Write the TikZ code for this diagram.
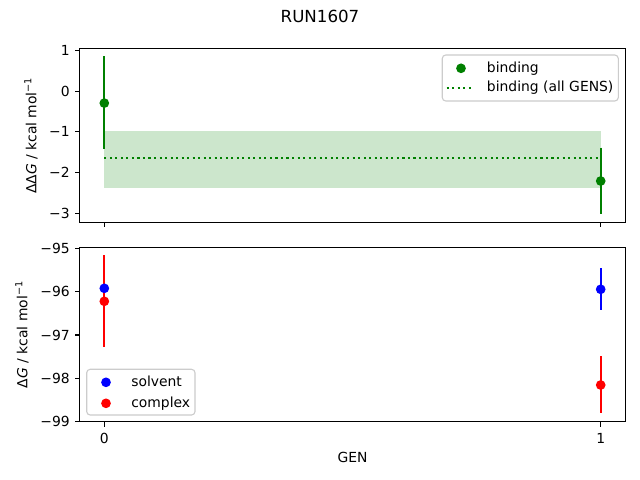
\documentclass[tikz,border=0pt]{standalone}
\usepackage{fontspec}
\setmainfont{DejaVu Sans}
\usetikzlibrary{positioning}
\definecolor{mplgreen}{HTML}{008000}
\definecolor{bandgreen}{HTML}{CCE6CC}
\definecolor{legendedge}{HTML}{CCCCCC}

\begin{document}
\begin{tikzpicture}[x=0.72pt,y=-0.72pt,
    every node/.append style={font=\fontsize{10}{12}\selectfont, inner sep=0},
    axisframe/.style={line width=0.8pt},
    tickmark/.style={line width=0.8pt},
    errbar/.style={line width=1.5pt},
    dot/.style={circle, minimum size=7pt, inner sep=0},
    legendbox/.style={draw=legendedge, fill=white, fill opacity=0.8,
                      rounded corners=2.5pt, line width=0.8pt},
    meanline/.style={mplgreen, line width=1.5pt, dash pattern=on 1.5pt off 2.475pt}]
    \fill[white] (0,0) rectangle (640,480);
    \useasboundingbox (0,0) rectangle (640,480);
    \node[font=\fontsize{12}{14}\selectfont, anchor=base] (title) at (320,22.3) {RUN1607};
    % upper panel: binding
    \fill[bandgreen] (104.3,131.1) rectangle (600.7,188.3);
    \coordinate (meanL) at (104.3,158.3);
    \coordinate (meanR) at (600.7,158.3);
    \draw[meanline] (meanL) -- (meanR);
    \draw[errbar, mplgreen] (104.3,56.0) -- (104.3,149.4);
    \draw[errbar, mplgreen] (600.7,147.7) -- (600.7,214.3);
    \node[dot, fill=mplgreen] (bind0) at (104.3,103.1) {};
    \node[dot, fill=mplgreen] (bind1) at (600.7,181.0) {};
    \draw[axisframe] (79.5,48.5) rectangle (625.5,222.5);
    \foreach \py/\lab [count=\i] in {50.7/1, 91.3/0, 131.9/−1, 172.5/−2, 213.1/−3} {
      \draw[tickmark] (79.5,\py) -- (74.6,\py);
      \node[anchor=east] (ytop\i) at (70,\py) {\lab};
    }
    \foreach \px in {104.3, 600.7}
      \draw[tickmark] (\px,222.5) -- (\px,227.4);
    \node[rotate=90] (ylabtop) at (31,135.5) {ΔΔ\textit{G} / kcal mol\textsuperscript{−1}};
    \draw[legendbox] (442.3,55) rectangle (618.3,101);
    \node[dot, fill=mplgreen] (legbind) at (461,68.3) {};
    \node[anchor=base west] (legbindtxt) at (486.7,72) {binding};
    \coordinate (legmeanL) at (446.7,87.7);
    \coordinate (legmeanR) at (474.3,87.7);
    \draw[meanline] (legmeanL) -- (legmeanR);
    \node[anchor=base west] (legmeantxt) at (486.7,91.4) {binding (all GENS)};
    % lower panel: solvent and complex
    \draw[errbar, red] (104.3,255.0) -- (104.3,346.7);
    \draw[errbar, blue] (600.7,268.3) -- (600.7,310.0);
    \draw[errbar, red] (600.7,356.0) -- (600.7,413.3);
    \node[dot, fill=blue] (solv0) at (104.3,288.3) {};
    \node[dot, fill=red] (comp0) at (104.3,301.3) {};
    \node[dot, fill=blue] (solv1) at (600.7,289.3) {};
    \node[dot, fill=red] (comp1) at (600.7,385.0) {};
    \draw[axisframe] (79.5,247.5) rectangle (625.5,421.8);
    \foreach \py/\lab [count=\i] in {248.35/−95, 291.7/−96, 335.05/−97, 378.4/−98, 421.75/−99} {
      \draw[tickmark] (79.5,\py) -- (74.6,\py);
      \node[anchor=east] (ybot\i) at (70,\py) {\lab};
    }
    \foreach \px/\lab [count=\i] in {104.3/0, 600.7/1} {
      \draw[tickmark] (\px,421.8) -- (\px,426.7);
      \node[anchor=north] (xbot\i) at (\px,433) {\lab};
    }
    \node[anchor=base] (xlab) at (352.5,462.3) {GEN};
    \node[rotate=90] (ylabbot) at (22,334.5) {Δ\textit{G} / kcal mol\textsuperscript{−1}};
    \draw[legendbox] (86.7,369.3) rectangle (195,415);
    \node[dot, fill=blue] (legsolv) at (106,382.3) {};
    \node[anchor=base west] (legsolvtxt) at (131,386) {solvent};
    \node[dot, fill=red] (legcomp) at (106,403.3) {};
    \node[anchor=base west] (legcomptxt) at (131,407) {complex};
\end{tikzpicture}
\end{document}
